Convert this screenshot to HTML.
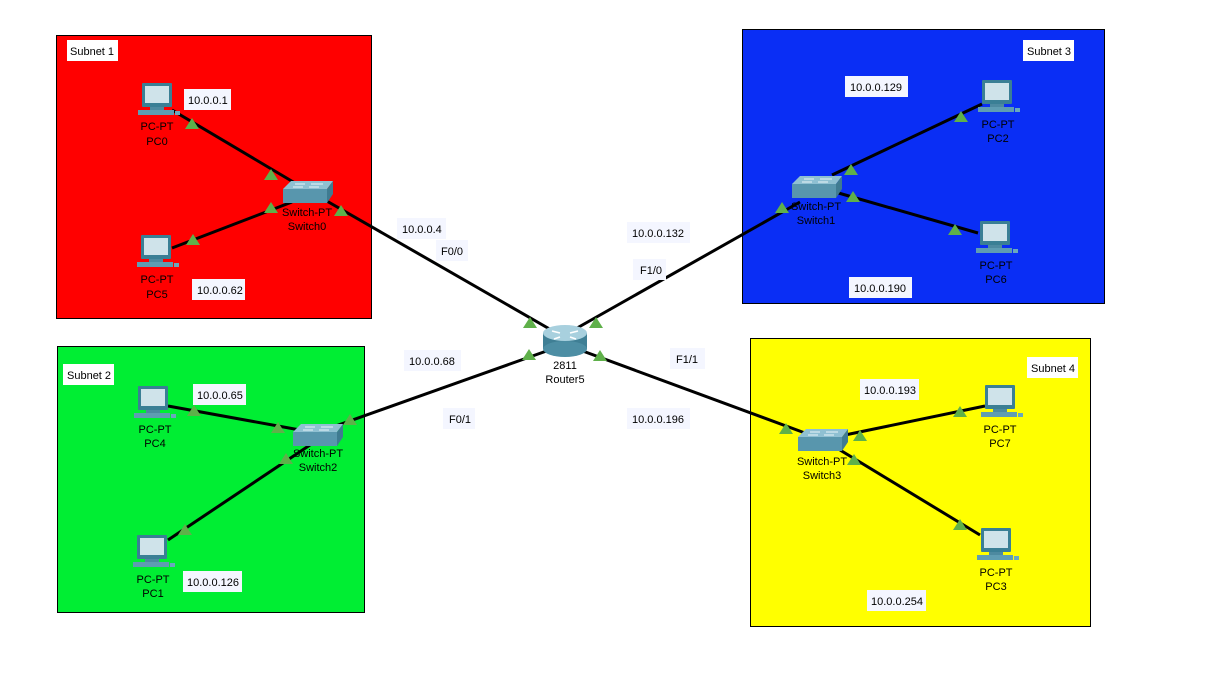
<!DOCTYPE html>
<html><head><meta charset="utf-8"><style>
body{margin:0;background:#fff}
svg text{font-family:"Liberation Sans",sans-serif;font-size:11px;fill:#000}
</style></head><body>
<svg width="1213" height="687" viewBox="0 0 1213 687" xmlns="http://www.w3.org/2000/svg">
<defs>
<g id="pc">
<rect x="0" y="0" width="30" height="24" fill="#3a7f95" rx="1"/>
<rect x="3" y="3" width="24" height="17" fill="#cfe3ea"/>
<rect x="8" y="24" width="14" height="3" fill="#4d8aa0"/>
<rect x="-4" y="27" width="36" height="5" fill="#5f9db2"/>
<rect x="33" y="28" width="5" height="4" fill="#6aa9bd"/>
</g>
<g id="sw">
<polygon points="0,8 8,0 50,0 44,8" fill="#8fc0d2"/>
<rect x="0" y="8" width="44" height="14" fill="#5896ad"/>
<polygon points="44,8 50,0 50,13 44,22" fill="#3f7b91"/>
<line x1="12" y1="3" x2="22" y2="3" stroke="#e8f4f8"/><line x1="28" y1="3" x2="40" y2="3" stroke="#e8f4f8"/>
<line x1="10" y1="6" x2="20" y2="6" stroke="#e8f4f8"/><line x1="26" y1="6" x2="36" y2="6" stroke="#e8f4f8"/>
</g>
<polygon id="tri" points="0,-6 7,5 -7,5" fill="#5fb04a"/>
</defs>
<rect x="56.5" y="35.5" width="315" height="283" fill="#ff0000" stroke="#000"/>
<rect x="742.5" y="29.5" width="362" height="274" fill="#0a2ef5" stroke="#000"/>
<rect x="57.5" y="346.5" width="307" height="266" fill="#00ee33" stroke="#000"/>
<rect x="750.5" y="338.5" width="340" height="288" fill="#ffff00" stroke="#000"/>
<g stroke="#000" stroke-width="3">
<line x1="172" y1="110" x2="300" y2="186"/>
<line x1="172" y1="248" x2="292" y2="202"/>
<line x1="325" y1="200" x2="560" y2="335"/>
<line x1="800" y1="202" x2="570" y2="332"/>
<line x1="832" y1="175" x2="982" y2="104"/>
<line x1="835" y1="192" x2="978" y2="233"/>
<line x1="330" y1="428" x2="555" y2="348"/>
<line x1="168" y1="406" x2="300" y2="430"/>
<line x1="168" y1="540" x2="310" y2="445"/>
<line x1="580" y1="350" x2="805" y2="433"/>
<line x1="845" y1="435" x2="985" y2="406"/>
<line x1="840" y1="450" x2="980" y2="535"/>
</g>
<use href="#pc" x="142" y="83"/><use href="#pc" x="141" y="235"/>
<use href="#pc" x="982" y="80"/><use href="#pc" x="980" y="221"/>
<use href="#pc" x="138" y="386"/><use href="#pc" x="137" y="535"/>
<use href="#pc" x="985" y="385"/><use href="#pc" x="981" y="528"/>
<use href="#sw" x="283" y="181"/><use href="#sw" x="792" y="176"/>
<use href="#sw" x="293" y="424"/><use href="#sw" x="798" y="429"/>
<g>
<rect x="543" y="333" width="44" height="16" fill="#3f7f95"/>
<ellipse cx="565" cy="349" rx="22" ry="8" fill="#4d8ea4"/>
<ellipse cx="565" cy="333" rx="22" ry="8" fill="#a8d0de"/>
<path d="M552 331 l8 2 M578 331 l-8 2 M560 337 l-6 2 M570 337 l6 2" stroke="#fff" stroke-width="1.5"/>
</g>
<g>
<use href="#tri" x="192" y="124"/><use href="#tri" x="271" y="175"/><use href="#tri" x="271" y="208"/>
<use href="#tri" x="193" y="240"/><use href="#tri" x="341" y="211"/><use href="#tri" x="530" y="323"/>
<use href="#tri" x="596" y="323"/><use href="#tri" x="529" y="355"/><use href="#tri" x="600" y="356"/>
<use href="#tri" x="782" y="208"/><use href="#tri" x="851" y="170"/><use href="#tri" x="853" y="197"/>
<use href="#tri" x="961" y="117"/><use href="#tri" x="955" y="230"/>
<use href="#tri" x="194" y="411"/><use href="#tri" x="278" y="428"/><use href="#tri" x="350" y="420"/>
<use href="#tri" x="286" y="459"/><use href="#tri" x="185" y="530"/>
<use href="#tri" x="786" y="429"/><use href="#tri" x="860" y="436"/><use href="#tri" x="854" y="460"/>
<use href="#tri" x="960" y="412"/><use href="#tri" x="960" y="525"/>
</g>
<g fill="#f4f6ff">
<rect x="67" y="40" width="51" height="21" fill="#fff"/>
<rect x="1023" y="40" width="51" height="21" fill="#fff"/>
<rect x="63" y="364" width="51" height="21" fill="#fff"/>
<rect x="1027" y="357" width="51" height="21" fill="#fff"/>
<rect x="184" y="89" width="47" height="21"/>
<rect x="192" y="279" width="53" height="21"/>
<rect x="845" y="76" width="63" height="21"/>
<rect x="849" y="277" width="63" height="21"/>
<rect x="193" y="384" width="53" height="21"/>
<rect x="183" y="571" width="59" height="21"/>
<rect x="860" y="379" width="59" height="21"/>
<rect x="867" y="590" width="59" height="21"/>
<rect x="397" y="218" width="49" height="21"/>
<rect x="436" y="240" width="32" height="21"/>
<rect x="627" y="222" width="63" height="21"/>
<rect x="633" y="259" width="33" height="21"/>
<rect x="404" y="350" width="57" height="21"/>
<rect x="443" y="408" width="32" height="21"/>
<rect x="670" y="348" width="35" height="21"/>
<rect x="627" y="408" width="63" height="21"/>
</g>
<g font-size="11">
<text x="70" y="55">Subnet 1</text><text x="1027" y="55">Subnet 3</text>
<text x="67" y="379">Subnet 2</text><text x="1031" y="372">Subnet 4</text>
<text x="188" y="104">10.0.0.1</text><text x="197" y="294">10.0.0.62</text>
<text x="850" y="91">10.0.0.129</text><text x="854" y="292">10.0.0.190</text>
<text x="197" y="399">10.0.0.65</text><text x="187" y="586">10.0.0.126</text>
<text x="864" y="394">10.0.0.193</text><text x="871" y="605">10.0.0.254</text>
<text x="402" y="233">10.0.0.4</text><text x="441" y="255">F0/0</text>
<text x="632" y="237">10.0.0.132</text><text x="640" y="274">F1/0</text>
<text x="409" y="365">10.0.0.68</text><text x="449" y="423">F0/1</text>
<text x="676" y="363">F1/1</text><text x="632" y="423">10.0.0.196</text>
</g>
<g text-anchor="middle" font-size="11">
<text x="157" y="130">PC-PT</text><text x="157" y="145">PC0</text>
<text x="157" y="283">PC-PT</text><text x="157" y="298">PC5</text>
<text x="307" y="216">Switch-PT</text><text x="307" y="230">Switch0</text>
<text x="998" y="128">PC-PT</text><text x="998" y="142">PC2</text>
<text x="996" y="269">PC-PT</text><text x="996" y="283">PC6</text>
<text x="816" y="210">Switch-PT</text><text x="816" y="224">Switch1</text>
<text x="155" y="433">PC-PT</text><text x="155" y="447">PC4</text>
<text x="153" y="583">PC-PT</text><text x="153" y="597">PC1</text>
<text x="318" y="457">Switch-PT</text><text x="318" y="471">Switch2</text>
<text x="1000" y="433">PC-PT</text><text x="1000" y="447">PC7</text>
<text x="996" y="576">PC-PT</text><text x="996" y="590">PC3</text>
<text x="822" y="465">Switch-PT</text><text x="822" y="479">Switch3</text>
<text x="565" y="369">2811</text><text x="565" y="383">Router5</text>
</g>
</svg>
</body></html>
